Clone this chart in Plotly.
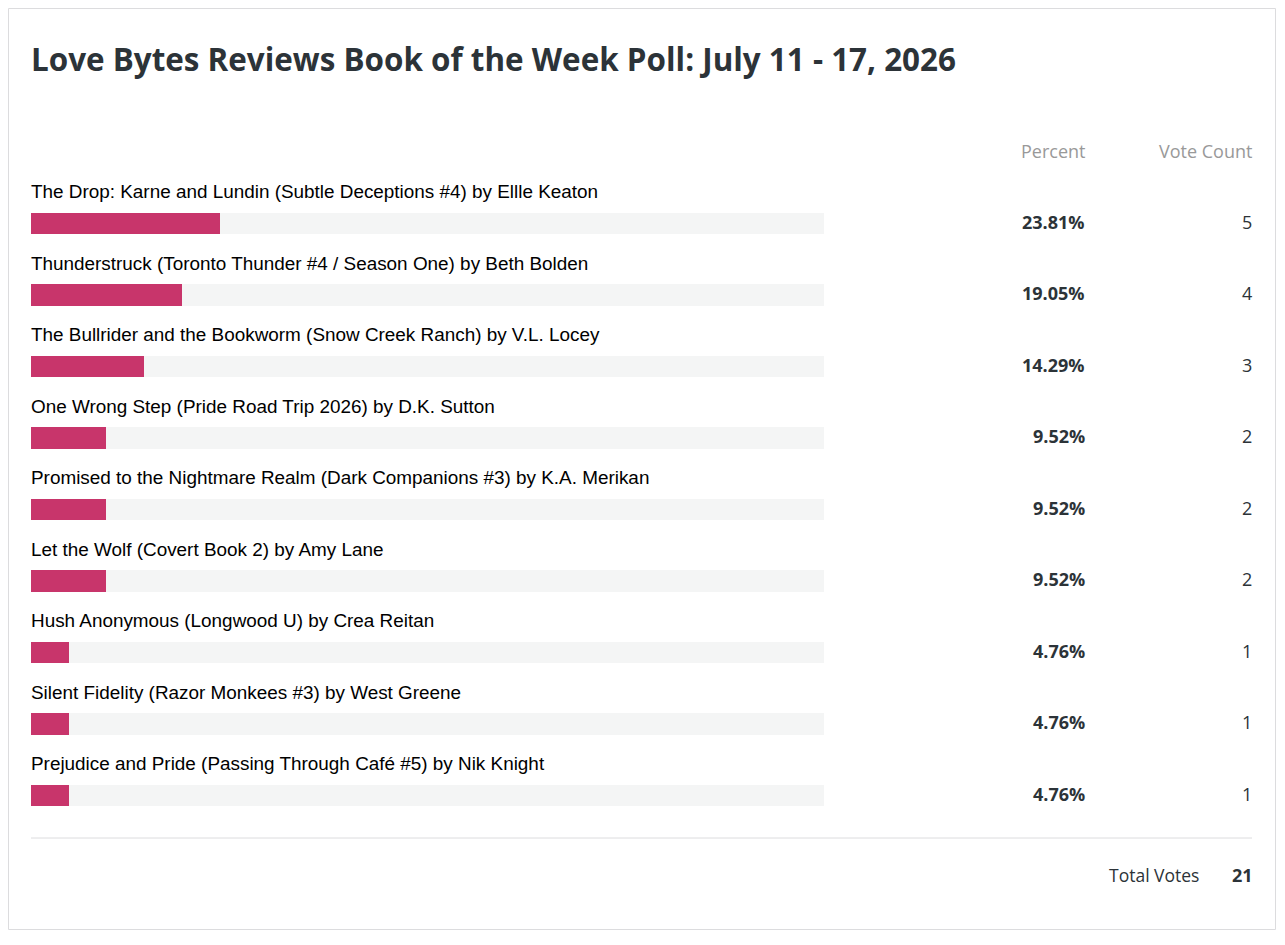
import plotly.graph_objects as go

# poll data
books = [
    "The Drop: Karne and Lundin (Subtle Deceptions #4) by Ellle Keaton",
    "Thunderstruck (Toronto Thunder #4 / Season One) by Beth Bolden",
    "The Bullrider and the Bookworm (Snow Creek Ranch) by V.L. Locey",
    "One Wrong Step (Pride Road Trip 2026) by D.K. Sutton",
    "Promised to the Nightmare Realm (Dark Companions #3) by K.A. Merikan",
    "Let the Wolf (Covert Book 2) by Amy Lane",
    "Hush Anonymous (Longwood U) by Crea Reitan",
    "Silent Fidelity (Razor Monkees #3) by West Greene",
    "Prejudice and Pride (Passing Through Café #5) by Nik Knight",
]
percents = [23.81, 19.05, 14.29, 9.52, 9.52, 9.52, 4.76, 4.76, 4.76]
votes = [5, 4, 3, 2, 2, 2, 1, 1, 1]
total_votes = 21

title = "Love Bytes Reviews Book of the Week Poll: July 11 - 17, 2026"

W, H = 1268, 922
rows = list(range(len(books)))
full = [100] * len(books)

PINK = "#c8356b"
TRACK = "#f4f5f5"
DARK = "#2c3338"
GRAY = "#999999"
UI_FONT = "Open Sans"
LABEL_FONT = "Liberation Sans"

fig = go.Figure()

# background tracks
fig.add_trace(go.Bar(
    x=full, y=rows, orientation="h", width=0.294,
    marker=dict(color=TRACK, line=dict(width=0)),
    hoverinfo="skip", showlegend=False,
))
# vote share bars
fig.add_trace(go.Bar(
    x=percents, y=rows, orientation="h", width=0.294,
    marker=dict(color=PINK, line=dict(width=0)),
    hovertemplate="%{x:.2f}%<extra></extra>", showlegend=False,
))

annotations = []
for i, (name, p, v) in enumerate(zip(books, percents, votes)):
    annotations.append(dict(
        x=0, y=i, xref="x", yref="y", text=name, showarrow=False,
        xanchor="left", yanchor="middle", yshift=32, xshift=-2,
        font=dict(family=LABEL_FONT, size=18.9, color="#000000"),
    ))
    annotations.append(dict(
        x=1077 / W, y=i, xref="paper", yref="y", text="<b>%.2f%%</b>" % p,
        showarrow=False, xanchor="right", yanchor="middle", xshift=2, yshift=2,
        font=dict(family=UI_FONT, size=18, color=DARK),
    ))
    annotations.append(dict(
        x=1244 / W, y=i, xref="paper", yref="y", text=str(v),
        showarrow=False, xanchor="right", yanchor="middle", xshift=2, yshift=2,
        font=dict(family=UI_FONT, size=18, color=DARK),
    ))

# headers, title, footer
annotations += [
    dict(x=24 / W, y=1 - 51 / H, xref="paper", yref="paper", text="<b>%s</b>" % title,
         showarrow=False, xanchor="left", yanchor="middle", xshift=-3, yshift=1,
         font=dict(family=UI_FONT, size=31.4, color=DARK)),
    dict(x=1077 / W, y=1 - 143 / H, xref="paper", yref="paper", text="Percent",
         showarrow=False, xanchor="right", yanchor="middle", xshift=2,
         font=dict(family=UI_FONT, size=18, color=GRAY)),
    dict(x=1244 / W, y=1 - 143 / H, xref="paper", yref="paper", text="Vote Count",
         showarrow=False, xanchor="right", yanchor="middle", xshift=2,
         font=dict(family=UI_FONT, size=18, color=GRAY)),
    dict(x=1191 / W, y=1 - 867 / H, xref="paper", yref="paper", text="Total Votes",
         showarrow=False, xanchor="right", yanchor="middle", xshift=2,
         font=dict(family=UI_FONT, size=17.5, color=DARK)),
    dict(x=1244 / W, y=1 - 867 / H, xref="paper", yref="paper", text="<b>%d</b>" % total_votes,
         showarrow=False, xanchor="right", yanchor="middle", xshift=3,
         font=dict(family=UI_FONT, size=18, color=DARK)),
]

shapes = [
    # card border
    dict(type="rect", xref="paper", yref="paper", x0=0.5 / W, x1=1 - 0.5 / W,
         y0=0.5 / H, y1=1 - 0.5 / H, line=dict(color="#dcdcde", width=1)),
    # footer separator
    dict(type="line", xref="paper", yref="paper", x0=23 / W, x1=1244 / W,
         y0=1 - 830 / H, y1=1 - 830 / H, line=dict(color="#dcdcde", width=1)),
]

fig.update_layout(
    width=W, height=H,
    margin=dict(l=0, r=0, t=0, b=0),
    paper_bgcolor="white", plot_bgcolor="white",
    barmode="overlay", bargap=0,
    annotations=annotations, shapes=shapes,
    xaxis=dict(domain=[23 / W, 816 / W], range=[0, 100], visible=False, fixedrange=True),
    yaxis=dict(domain=[0, 1], range=[(H - 215.5) / 71.5, -215.5 / 71.5],
               visible=False, fixedrange=True),
    font=dict(family=UI_FONT),
)

fig.write_html("out.html")
